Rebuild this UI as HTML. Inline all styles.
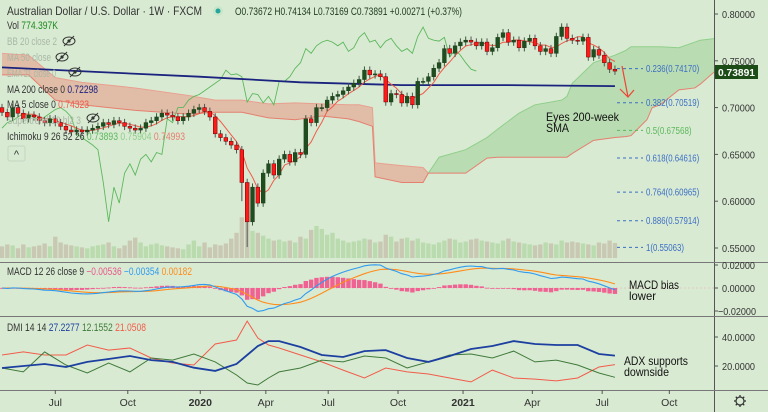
<!DOCTYPE html>
<html><head><meta charset="utf-8">
<style>
html,body{margin:0;padding:0;background:#d9ead3;}
#wrap{position:relative;width:768px;height:412px;overflow:hidden;background:#d9ead3;font-family:"Liberation Sans",sans-serif;}
svg{position:absolute;left:0;top:0;}
</style></head>
<body>
<div id="wrap">
<svg id="chart" width="768" height="412"></svg>
</div>
<script>
// ---------- DATA ----------
const closes = [0.695,0.690,0.700,0.694,0.688,0.692,0.690,0.686,0.684,0.688,0.684,0.680,0.676,0.674,0.676,
0.674,0.676,0.678,0.680,0.684,0.682,0.686,0.684,0.680,0.678,0.676,0.678,0.684,0.686,0.690,
0.694,0.692,0.690,0.686,0.690,0.694,0.698,0.700,0.696,0.690,0.672,0.668,0.664,0.660,0.655,
0.620,0.578,0.615,0.598,0.630,0.640,0.628,0.645,0.650,0.642,0.652,0.650,0.688,0.684,0.700,
0.700,0.708,0.712,0.714,0.718,0.722,0.726,0.730,0.740,0.735,0.736,0.733,0.706,0.715,0.714,
0.705,0.712,0.703,0.728,0.728,0.733,0.742,0.748,0.763,0.758,0.766,0.770,0.772,0.770,0.766,
0.770,0.760,0.764,0.775,0.780,0.770,0.772,0.764,0.771,0.774,0.766,0.760,0.763,0.758,0.776,
0.786,0.774,0.772,0.771,0.775,0.754,0.762,0.756,0.748,0.741,0.739];
const firstOpen = 0.700;
const extremeLows = {46:0.551,45:0.600};
const volumes = [600,700,650,500,700,550,600,650,750,600,1100,800,700,650,600,
550,500,600,650,700,800,600,500,650,900,1050,800,600,700,750,
650,600,550,500,450,700,900,600,800,550,700,650,750,1000,1300,
2100,2200,1400,1300,1150,1000,900,950,850,900,800,1100,1000,1450,1650,
1500,1200,1300,1000,900,800,850,900,1000,950,800,850,1200,1100,850,
1000,1050,900,1000,800,750,700,800,900,1000,950,800,850,950,1000,
900,850,800,750,900,1000,850,800,750,700,650,700,800,750,700,
900,800,850,800,750,700,650,800,750,900,774];
const ma200Idx = [0,18,37,56,75,94,115];
const ma200Val = [0.743,0.738,0.733,0.727,0.724,0.724,0.723];
// Ichimoku cloud edges (week index; extends 26 weeks forward)
const redCloudIdx = [0,5,10,15,20,25,30,35,40,45,50,55,60,65,67,69.5,70,75,79,80];
const redTop = [0.758,0.756,0.732,0.727,0.724,0.721,0.717,0.713,0.708,0.708,0.704,0.705,0.704,0.703,0.703,0.700,0.641,0.638,0.636,0.630];
const redBot = [0.735,0.735,0.708,0.703,0.700,0.697,0.695,0.693,0.695,0.695,0.689,0.687,0.691,0.688,0.685,0.680,0.626,0.620,0.620,0.630];
const greenCloudIdx = [80,82,87,91,93,97,100,105,106,107,111,115,117,118,121,122,123.5,127,130,131,134];
const greenTop = [0.630,0.647,0.655,0.668,0.677,0.694,0.703,0.708,0.712,0.726,0.748,0.756,0.761,0.765,0.765,0.765,0.765,0.764,0.770,0.772,0.774];
const greenBot = [0.630,0.630,0.630,0.646,0.647,0.647,0.647,0.647,0.647,0.651,0.665,0.668,0.669,0.670,0.687,0.700,0.703,0.719,0.721,0.725,0.740];
// DMI
const dmiIdx = [0,4,8,12,16,20,24,28,32,36,40,44,46,48,50,52,56,60,64,68,72,76,80,84,88,92,96,100,104,108,112,115];
const adx = [18.6,20,21.4,19.3,22.8,24.8,26.9,24.1,22.8,18.8,16.6,21.4,27.6,33.8,37.2,37.2,33.1,27.6,26.2,30.3,31.0,25.5,22.8,26.9,31.7,33.8,37.2,35.2,34.5,34.5,28.3,27.2];
const diPlus = [18.6,15.9,29.7,20.7,15.2,22.1,15.9,25.5,24.1,28.3,22.8,13.8,8.3,6.9,11.7,15.9,18.6,24.1,22.8,26.9,25.5,18.6,22.8,27.6,28.3,25.5,30.3,22.8,24.1,20.7,15.2,12.2];
const diMinus = [27.6,29.7,27.6,27.6,34.5,31.0,32.4,25.5,22.1,20.7,35.2,37.9,51.0,39.3,34.5,32.4,27.6,22.8,17.2,11.7,18.6,15.9,14.5,11.7,9.0,17.2,11.7,11.0,9.7,11.7,19.3,21.0];
// Fibonacci
const fibRatios = ["0.236","0.382","0.5","0.618","0.764","0.886","1"];
const fibPrices = [0.74170,0.70519,0.67568,0.64616,0.60965,0.57914,0.55063];
// Axis ticks
const priceTicks = [0.80,0.75,0.70,0.65,0.60,0.55];
const macdTicks = [0.02,0,-0.02];
const dmiTicks = [40,20];
const timeLabels = ["Jul","Oct","2020","Apr","Jul","Oct","2021","Apr","Jul","Oct"];
const timeIdx = [10,23.6,37.2,49.5,61.2,74.3,86.5,99.5,112.6,125.2];

// ---------- AXES ----------
const X = i => 2 + i*5.33;
const Y = p => 14 + (0.80 - p)/0.05*46.8;
const YM = v => 288 - v*1150;
const YD = v => 366 - (v-20)*1.45;
const VY = v => 258 - v*0.0194;

const svg = document.getElementById('chart');
const NS = 'http://www.w3.org/2000/svg';
function mk(tag, attrs, parent){const e=document.createElementNS(NS,tag);for(const k in attrs)e.setAttribute(k,attrs[k]);(parent||svg).appendChild(e);return e;}
function txt(x,y,s,fill,size,parent,anchor,weight,len){const a={x:x,y:y,fill:fill,'font-size':size||11,'font-family':'Liberation Sans, sans-serif','text-anchor':anchor||'start','font-weight':weight||'normal'};if(len){a.textLength=len;a.lengthAdjust='spacingAndGlyphs';}const e=mk('text',a,parent);e.textContent=s;return e;}

const defs = mk('defs',{});
const cp = mk('clipPath',{id:'plotclip'},defs);
mk('rect',{x:0,y:0,width:714,height:262},cp);

// ---------- CLOUDS ----------
function cloud(idx, top, bot, fill, stroke1, stroke2, name){
  const g=mk('g',{'clip-path':'url(#plotclip)'});
  
  
  let d='M'+idx.map((v,k)=>X(v).toFixed(1)+','+Y(top[k]).toFixed(1)).join(' L');
  d+=' L'+idx.slice().reverse().map((v,k)=>X(v).toFixed(1)+','+Y(bot[idx.length-1-k]).toFixed(1)).join(' L')+'Z';
  mk('path',{d:d,fill:fill,stroke:'none'},g);
  mk('polyline',{points:idx.map((v,k)=>X(v)+','+Y(top[k])).join(' '),fill:'none',stroke:stroke1,'stroke-width':1},g);
  mk('polyline',{points:idx.map((v,k)=>X(v)+','+Y(bot[k])).join(' '),fill:'none',stroke:stroke2,'stroke-width':1},g);
}
cloud(redCloudIdx, redTop, redBot, 'rgba(232,150,130,0.55)', '#e8a090', '#e57f6f', 'ichimoku-cloud-bearish');
cloud(greenCloudIdx, greenTop, greenBot, 'rgba(140,200,130,0.40)', '#8fcf8a', '#e57f6f', 'ichimoku-cloud-bullish');

// ---------- VOLUME ----------
const volG = mk('g',{});


closes.forEach((c,i)=>{
  const o = i===0?firstOpen:closes[i-1];
  const r = mk('rect',{x:X(i)-2.2,y:VY(volumes[i]),width:4.4,height:258-VY(volumes[i]),fill:c>=o?'#b9dbae':'#c9c9b3'},volG);
  
  
});

// ---------- CHIKOU (lagging span) ----------
const chik = [];
for(let i=0;i+26<closes.length;i++) chik.push(X(i)+','+Y(closes[i+26]).toFixed(1));
const chikLine = mk('polyline',{points:chik.join(' '),fill:'none',stroke:'#5cb85c','stroke-width':0.9});



// ---------- MA200 ----------
const ma200Line = mk('path',{d:'M'+ma200Idx.map((v,k)=>X(v)+','+Y(ma200Val[k]).toFixed(1)).join(' L'),fill:'none',stroke:'#1a237e','stroke-width':1.8});



// ---------- MA5 ----------
const ma5=[];
for(let i=4;i<closes.length;i++){let s=0;for(let j=0;j<5;j++)s+=closes[i-j];ma5.push(X(i)+','+Y(s/5).toFixed(1));}
const ma5Line = mk('polyline',{points:ma5.join(' '),fill:'none',stroke:'#f05a4a','stroke-width':1});



// ---------- CANDLES ----------
const cG = mk('g',{});


closes.forEach((c,i)=>{
  const o = i===0?firstOpen:closes[i-1];
  const hi = Math.max(o,c)+0.004, lo = extremeLows[i]!==undefined?extremeLows[i]:Math.min(o,c)-0.004;
  const up = c>=o;
  const x=X(i);
  mk('line',{x1:x,x2:x,y1:Y(hi),y2:Y(lo),stroke:up?'#3a5a3a':'#555','stroke-width':1},cG);
  const top=Y(Math.max(o,c)), h=Math.max(1,Y(Math.min(o,c))-top);
  const b = mk('rect',{x:x-1.9,y:top,width:3.8,height:h,fill:up?'#1e4d1e':'#ff1a1a',stroke:up?'#1e3d1e':'#600','stroke-width':0.5},cG);
  
  
});

// ---------- FIB ----------
const fG = mk('g',{});


fibPrices.forEach((p,k)=>{
  const col = fibRatios[k]==="0.5"?'#5cb85c':'#3b6fc4';
  mk('line',{x1:617,x2:643,y1:Y(p),y2:Y(p),stroke:col,'stroke-width':1,'stroke-dasharray':'3,3'},fG);
  const s = fibRatios[k]+'('+p.toFixed(5)+')';
  const t = txt(646,Y(p)+3.5,s,col,10,fG,'start','normal',s.length*3.8);
  
  
});

// red arrow
const arr = mk('g',{});


mk('polyline',{points:'622,66 628,97',fill:'none',stroke:'#ee4433','stroke-width':1.2},arr);
mk('polyline',{points:'620,89 628,97 634,90',fill:'none',stroke:'#ee4433','stroke-width':1.2},arr);

// ---------- MACD ----------
function ema(arr,n){const k=2/(n+1);const out=[];let e=arr[0];arr.forEach(v=>{e=v*k+e*(1-k);out.push(e);});return out;}
const e12=ema(closes,12), e26=ema(closes,26);
const macd=e12.map((v,i)=>v-e26[i]);
const sig=ema(macd,9);
const mG = mk('g',{});


mk('line',{x1:0,x2:714,y1:YM(0),y2:YM(0),stroke:'#e8a0b0','stroke-width':0.6,'stroke-dasharray':'2,2'},mG);
macd.forEach((m,i)=>{
  const h=m-sig[i];
  const y0=YM(0), y1=YM(h);
  const r = mk('rect',{x:X(i)-2.2,y:Math.min(y0,y1),width:4.4,height:Math.max(0.8,Math.abs(y1-y0)),fill:'#f06292'},mG);
  
  
});
mk('polyline',{points:sig.map((v,i)=>X(i)+','+YM(v).toFixed(1)).join(' '),fill:'none',stroke:'#ff8c1a','stroke-width':1.1},mG);
mk('polyline',{points:macd.map((v,i)=>X(i)+','+YM(v).toFixed(1)).join(' '),fill:'none',stroke:'#2f9bf0','stroke-width':1.1},mG);

// ---------- DMI ----------
const dG = mk('g',{});


function dline(vals,col,w,name){const l=mk('polyline',{points:dmiIdx.map((v,k)=>X(v)+','+YD(vals[k]).toFixed(1)).join(' '),fill:'none',stroke:col,'stroke-width':w},dG);}
dline(diMinus,'#f25c4a',1,'minus-di-line');
dline(diPlus,'#3f7a3a',1,'plus-di-line');
dline(adx,'#1c3fa0',1.8,'adx-line');

// ---------- GRID / AXES ----------
const aG = mk('g',{});


mk('line',{x1:714.5,x2:714.5,y1:0,y2:412,stroke:'#555','stroke-width':1},aG);
mk('line',{x1:0,x2:768,y1:262.5,y2:262.5,stroke:'#777','stroke-width':1},aG);
mk('line',{x1:0,x2:768,y1:316.5,y2:316.5,stroke:'#777','stroke-width':1},aG);
mk('line',{x1:0,x2:768,y1:390.5,y2:390.5,stroke:'#777','stroke-width':1},aG);
priceTicks.forEach(p=>{mk('line',{x1:714,x2:718,y1:Y(p),y2:Y(p),stroke:'#555'},aG);const t=txt(722,Y(p)+4,p.toFixed(5),'#333',10.5,aG,'start','normal',33);});
macdTicks.forEach(v=>{mk('line',{x1:714,x2:718,y1:YM(v),y2:YM(v),stroke:'#555'},aG);const t=txt(v<0?718:722,YM(v)+4,(v<0?'\u22120.02000':v.toFixed(5)),'#333',10.5,aG,'start','normal',v<0?38:33);});
dmiTicks.forEach(v=>{mk('line',{x1:714,x2:718,y1:YD(v),y2:YD(v),stroke:'#555'},aG);const t=txt(722,YD(v)+4,v.toFixed(4),'#333',10.5,aG,'start','normal',33);});
timeLabels.forEach((s,k)=>{const x=X(timeIdx[k]);mk('line',{x1:x,x2:x,y1:390,y2:394,stroke:'#555'},aG);const t=txt(x,406,s,'#333',10.5,aG,'middle',(s.length===4)?'bold':'normal');});

// price label
const pl = mk('g',{});


mk('rect',{x:715,y:65,width:43,height:14,fill:'#1d4d16'},pl);
txt(718,76,'0.73891','#fff',10.5,pl,'start','bold',37);

// gear
const gear = mk('g',{});


mk('circle',{cx:740,cy:401,r:4,fill:'none',stroke:'#333','stroke-width':1.2},gear);
for(let a=0;a<8;a++){const an=a*Math.PI/4;mk('line',{x1:740+Math.cos(an)*4,y1:401+Math.sin(an)*4,x2:740+Math.cos(an)*6,y2:401+Math.sin(an)*6,stroke:'#333','stroke-width':1.3},gear);}

// ---------- LEGENDS ----------
const lg = mk('g',{});


txt(7,15,'Australian Dollar / U.S. Dollar · 1W · FXCM','#333',12,lg,'start','normal',195);
mk('circle',{cx:218,cy:11,r:5,fill:'#c8e6c9'},lg);
mk('circle',{cx:218,cy:11,r:2.5,fill:'#26a69a'},lg);
txt(235,15,'O0.73672  H0.74134  L0.73169  C0.73891  +0.00271 (+0.37%)','#1f3a1f',11,lg,'start','normal',227);
function legendLine(y,len,parts){const g=mk('g',{},lg);const t=mk('text',{x:7,y:y,'font-size':11,'font-family':'Liberation Sans, sans-serif',textLength:len,lengthAdjust:'spacingAndGlyphs'},g);parts.forEach(p=>{const s=mk('tspan',{fill:p[1]},t);s.textContent=p[0];});return g;}
legendLine(29,51,[['Vol  ','#333'],['774.397K','#1e8a1e']]);
legendLine(45,50,[['BB 20 close 2','#a9b8a5']]);
legendLine(61,44,[['MA 50 close','#a9b8a5']]);
legendLine(77,49,[['EMA 21 close 0','#a9b8a5']]);
legendLine(93,91,[['MA 200 close 0  ','#333'],['0.72298','#1a237e']]);
legendLine(108,82,[['MA 5 close 0  ','#333'],['0.74323','#f05a4a']]);
legendLine(124,74,[['Supertrend 10 hl2 3','#a9b8a5']]);
legendLine(140,178,[['Ichimoku 9 26 52 26  ','#333'],['0.73893  ','#5cb85c'],['0.75904  ','#8fcf8a'],['0.74993','#e57f6f']]);
[[69,41],[62,57],[75,72],[93,118]].forEach(p=>{const e=mk('g',{},lg);mk('ellipse',{cx:p[0],cy:p[1],rx:6,ry:4,fill:'none',stroke:'#333','stroke-width':1},e);mk('circle',{cx:p[0],cy:p[1],r:1.6,fill:'#333'},e);mk('line',{x1:p[0]-5,y1:p[1]+5,x2:p[0]+5,y2:p[1]-5,stroke:'#333','stroke-width':1},e);});
const cb = mk('g',{},lg);


mk('rect',{x:8,y:146,width:17,height:15,fill:'none',stroke:'#c5d6c0',rx:2},cb);
txt(16.5,158,'^','#333',11,cb,'middle');

const ml = mk('g',{});


const mt=mk('text',{x:7,y:275,'font-size':11,'font-family':'Liberation Sans, sans-serif',textLength:185,lengthAdjust:'spacingAndGlyphs'},ml);
[['MACD 12 26 close 9  ','#333'],['\u22120.00536  ','#e8588a'],['\u22120.00354  ','#2f9bf0'],['0.00182','#ff8c1a']].forEach(p=>{const s=mk('tspan',{fill:p[1]},mt);s.textContent=p[0];});
const dl = mk('g',{});


const dt=mk('text',{x:7,y:331,'font-size':11,'font-family':'Liberation Sans, sans-serif',textLength:139,lengthAdjust:'spacingAndGlyphs'},dl);
[['DMI 14 14  ','#333'],['27.2277  ','#1c3fa0'],['12.1552  ','#3f7a3a'],['21.0508','#f25c4a']].forEach(p=>{const s=mk('tspan',{fill:p[1]},dt);s.textContent=p[0];});

// ---------- ANNOTATIONS ----------
function note(x,y,lines,lens,name){const g=mk('g',{});lines.forEach((s,k)=>txt(x,y+k*11,s,'#111',12,g,'start','normal',lens[k]));}
note(546,121,['Eyes 200-week','SMA'],[73,23],'annotation-sma');
note(629,289,['MACD bias','lower'],[50,27],'annotation-macd');
note(624,365,['ADX supports','downside'],[64,45],'annotation-adx');
</script>
</body></html>
